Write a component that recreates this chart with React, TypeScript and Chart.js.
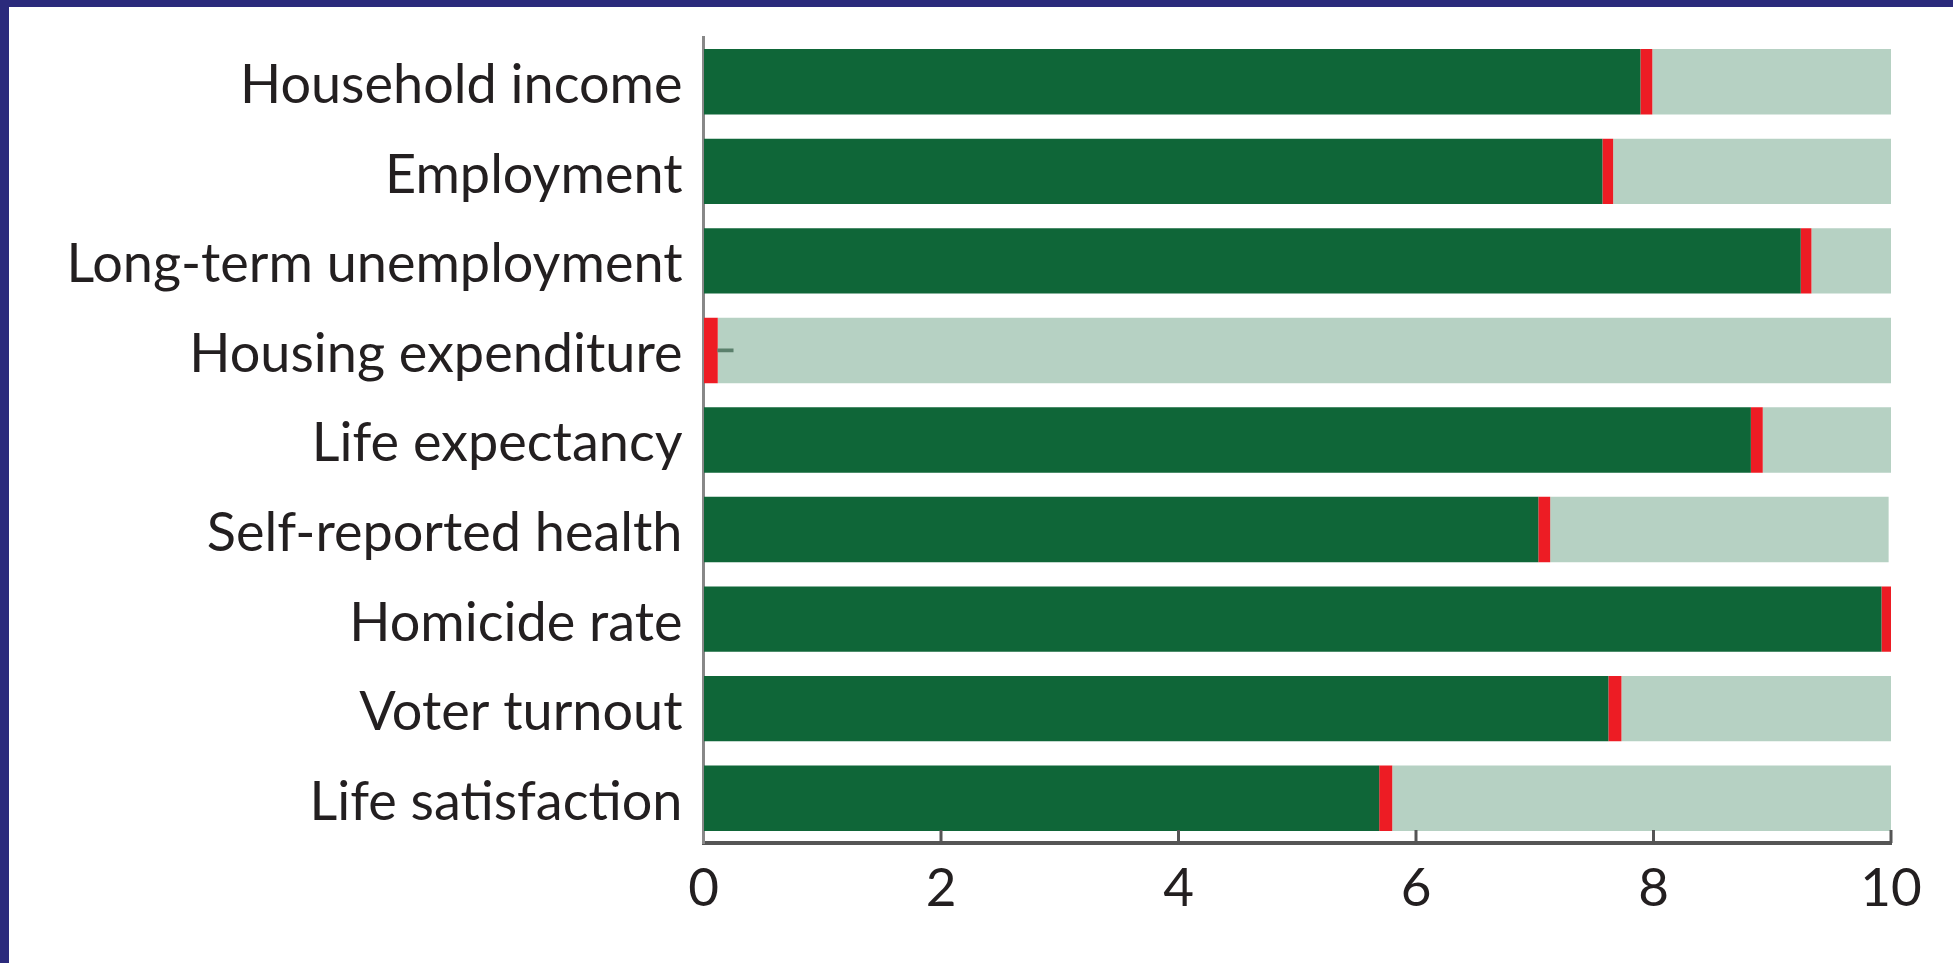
import React, { useEffect, useRef } from "react";
import { Chart, registerables } from "chart.js";

Chart.register(...registerables);

const categories = [
  "Household income",
  "Employment",
  "Long-term unemployment",
  "Housing expenditure",
  "Life expectancy",
  "Self-reported health",
  "Homicide rate",
  "Voter turnout",
  "Life satisfaction",
];
const greenValues = [7.89, 7.57, 9.24, 0, 8.82, 7.03, 9.92, 7.62, 5.69];
const redEnds = [7.99, 7.66, 9.33, 0.12, 8.92, 7.13, 10.0, 7.73, 5.8];
const lightEnds = [10, 10, 10, 10, 10, 9.98, 10, 10, 10];
const whiskerStarts = [null, null, null, 0.12, null, null, null, null, null];
const whiskerEnds = [null, null, null, 0.25, null, null, null, null, null];
const xTicks = [0, 2, 4, 6, 8, 10];

const FONT = "Lato";
const TEXT = "#231f20";

export default function App() {
  const ref = useRef<HTMLCanvasElement>(null);
  useEffect(() => {
    const canvas = ref.current;
    if (!canvas) return;
    const innerTicks = {
      id: "innerTicks",
      afterDatasetsDraw(chart: any) {
        const { ctx, chartArea, scales } = chart;
        const x = scales.x;
        ctx.save();
        ctx.strokeStyle = "#555555";
        ctx.lineWidth = 3;
        xTicks.forEach((v) => {
          if (v === 0) return;
          const px = x.getPixelForValue(v);
          ctx.beginPath();
          ctx.moveTo(px, chartArea.bottom);
          ctx.lineTo(px, chartArea.bottom - 13);
          ctx.stroke();
        });
        ctx.restore();
      },
    };
    const chart = new Chart(canvas, {
      type: "bar",
      data: {
        labels: categories,
        datasets: [
          {
            label: "whisker",
            data: whiskerStarts.map((s, i) => (s === null ? null : [s, whiskerEnds[i] as number])) as any,
            backgroundColor: "#5b806c",
            barThickness: 3,
            grouped: false,
            order: 0,
          },
          {
            label: "score",
            data: greenValues.map((v) => (v > 0 ? [0, v] : null)) as any,
            backgroundColor: "#0f6638",
            grouped: false,
            order: 1,
          },
          {
            label: "range",
            data: greenValues.map((v, i) => [v, redEnds[i]]) as any,
            backgroundColor: "#ed1c24",
            grouped: false,
            order: 1,
          },
          {
            label: "rest",
            data: redEnds.map((v, i) => [v, lightEnds[i]]) as any,
            backgroundColor: "#b6d1c3",
            grouped: false,
            order: 2,
          },
        ],
      },
      options: {
        indexAxis: "y",
        animation: false,
        responsive: false,
        maintainAspectRatio: false,
        devicePixelRatio: 1,
        datasets: {
          bar: { categoryPercentage: 1, barPercentage: 0.73, borderWidth: 0 },
        },
        layout: { padding: { top: 37, right: 62, left: 0, bottom: 0 } },
        plugins: { legend: { display: false }, tooltip: { enabled: false } },
        scales: {
          x: {
            type: "linear",
            min: 0,
            max: 10,
            afterBuildTicks: (scale: any) => {
              scale.ticks = xTicks.map((v) => ({ value: v }));
            },
            afterFit: (scale: any) => {
              scale.height = 120;
              scale.paddingLeft = 0;
              scale.paddingRight = 0;
            },
            grid: { display: true, drawOnChartArea: false, drawTicks: false, color: "rgba(0,0,0,0)" },
            border: { display: true, color: "#555555", width: 4 },
            ticks: {
              padding: 14,
              font: { family: FONT, size: 53 },
              color: TEXT,
              maxRotation: 0,
              autoSkip: false,
            },
          },
          y: {
            type: "category",
            afterFit: (scale: any) => {
              scale.width = 703.5;
              scale.paddingTop = 0;
              scale.paddingBottom = 0;
            },
            grid: { display: true, drawOnChartArea: false, drawTicks: false, color: "rgba(0,0,0,0)" },
            border: { display: true, color: "#888888", width: 3 },
            ticks: {
              padding: 21,
              labelOffset: 4,
              font: { family: FONT, size: 54 },
              color: TEXT,
              autoSkip: false,
            },
          },
        },
      },
      plugins: [innerTicks],
    });
    return () => chart.destroy();
  }, []);

  return (
    <div style={{ position: "absolute", left: 0, top: 0, width: 1953, height: 963, background: "#ffffff", overflow: "hidden" }}>
      <canvas ref={ref} width={1953} height={963} style={{ position: "absolute", left: 0, top: 0, width: 1953, height: 963 }} />
      <div style={{ position: "absolute", left: 0, top: 0, width: 1953, height: 7, background: "#2b2a7c" }} />
      <div style={{ position: "absolute", left: 0, top: 0, width: 9, height: 963, background: "#2b2a7c" }} />
    </div>
  );
}
